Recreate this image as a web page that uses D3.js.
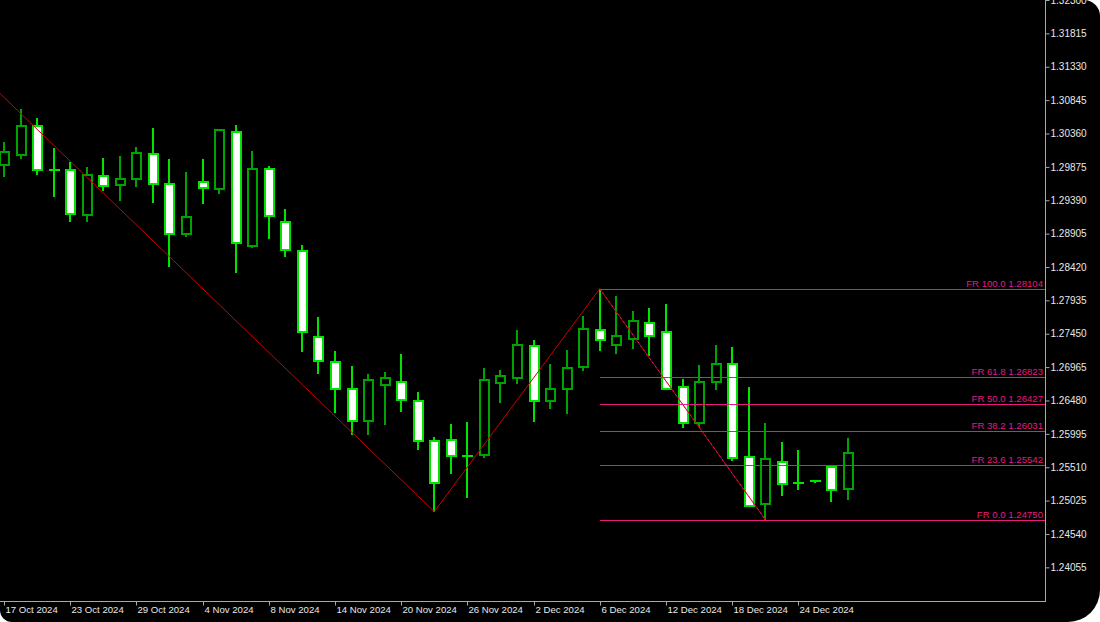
<!DOCTYPE html>
<html><head><meta charset="utf-8">
<script src="https://cdn.jsdelivr.net/npm/d3@7"></script>
<style>
html,body{margin:0;padding:0;background:#fff;width:1100px;height:622px;overflow:hidden;}
#wrap{position:absolute;left:0;top:0;width:1100px;height:622px;background:#000;border-radius:0 16px 32px 12px;overflow:hidden;}
svg{display:block;}
text{font-family:"Liberation Sans",Arial,sans-serif;font-size:10px;}
</style></head><body><div id="wrap"></div>
<script>
// ---- data ----
const dates = ["17 Oct 2024","18 Oct 2024","21 Oct 2024","22 Oct 2024","23 Oct 2024","24 Oct 2024","25 Oct 2024","28 Oct 2024","29 Oct 2024","30 Oct 2024","31 Oct 2024","1 Nov 2024","4 Nov 2024","5 Nov 2024","6 Nov 2024","7 Nov 2024","8 Nov 2024","11 Nov 2024","12 Nov 2024","13 Nov 2024","14 Nov 2024","15 Nov 2024","18 Nov 2024","19 Nov 2024","20 Nov 2024","21 Nov 2024","22 Nov 2024","25 Nov 2024","26 Nov 2024","27 Nov 2024","28 Nov 2024","29 Nov 2024","2 Dec 2024","3 Dec 2024","4 Dec 2024","5 Dec 2024","6 Dec 2024","9 Dec 2024","10 Dec 2024","11 Dec 2024","12 Dec 2024","13 Dec 2024","16 Dec 2024","17 Dec 2024","18 Dec 2024","19 Dec 2024","20 Dec 2024","23 Dec 2024","24 Dec 2024","25 Dec 2024","26 Dec 2024","27 Dec 2024"];
const openP  = [1.29902,1.30052,1.30473,1.29826,1.29829,1.29175,1.29747,1.29611,1.29694,1.30066,1.29630,1.28895,1.29659,1.29553,1.30382,1.28729,1.29840,1.29074,1.28652,1.27407,1.27043,1.26651,1.26177,1.26700,1.26753,1.26472,1.25887,1.25901,1.25670,1.25692,1.26730,1.26802,1.27272,1.26472,1.26651,1.26962,1.27509,1.27291,1.27369,1.27601,1.27479,1.26680,1.26157,1.26744,1.27014,1.25658,1.24971,1.25581,1.25277,1.25305,1.25513,1.25193];
const highP  = [1.30236,1.30716,1.30585,1.30149,1.29946,1.29873,1.29999,1.30028,1.30159,1.30435,1.29994,1.29800,1.29994,1.30425,1.30479,1.30106,1.29888,1.29258,1.28735,1.27693,1.27199,1.26977,1.26869,1.26898,1.27155,1.26599,1.25949,1.26134,1.26163,1.26947,1.26918,1.27504,1.27359,1.27006,1.27213,1.27708,1.28104,1.27998,1.27785,1.27820,1.27882,1.26792,1.26991,1.27291,1.27257,1.26671,1.26148,1.25876,1.25760,1.25324,1.25538,1.25935];
const lowP   = [1.29732,1.29985,1.29761,1.29441,1.29069,1.29078,1.29524,1.29383,1.29578,1.29354,1.28424,1.28860,1.29340,1.29476,1.28337,1.28691,1.28827,1.28561,1.27189,1.26860,1.26294,1.25974,1.25974,1.26119,1.26308,1.25765,1.24864,1.25411,1.25067,1.25648,1.26448,1.26724,1.26167,1.26360,1.26288,1.26913,1.27203,1.27160,1.27228,1.27126,1.26632,1.26073,1.26099,1.26632,1.25605,1.24927,1.24750,1.25096,1.25175,1.25281,1.25009,1.25038];
const closeP = [1.30087,1.30473,1.29829,1.29824,1.29194,1.29752,1.29601,1.29694,1.30072,1.29630,1.28895,1.29151,1.29572,1.30415,1.28773,1.29840,1.29165,1.28667,1.27471,1.27058,1.26642,1.26177,1.26773,1.26802,1.26487,1.25891,1.25285,1.25673,1.25668,1.26773,1.26831,1.27286,1.26472,1.26642,1.26956,1.27514,1.27354,1.27421,1.27631,1.27417,1.26642,1.26157,1.26744,1.27006,1.25644,1.24946,1.25634,1.25270,1.25275,1.25303,1.25179,1.25721];
const priceTicks = [1.32300,1.31815,1.31330,1.30845,1.30360,1.29875,1.29390,1.28905,1.28420,1.27935,1.27450,1.26965,1.26480,1.25995,1.25510,1.25025,1.24540,1.24055];
const dateTicks = ["17 Oct 2024","23 Oct 2024","29 Oct 2024","4 Nov 2024","8 Nov 2024","14 Nov 2024","20 Nov 2024","26 Nov 2024","2 Dec 2024","6 Dec 2024","12 Dec 2024","18 Dec 2024","24 Dec 2024"];
const zigzagBars = [-3, 26, 36, 46];
const zigzagPrices = [1.31579, 1.24864, 1.28104, 1.24750];
const fibLevels = [100.0, 61.8, 50.0, 38.2, 23.6, 0.0];
const fibHigh = 1.28104, fibLow = 1.24750;
const fibStartBar = 36;

// ---- layout ----
const W = 1100, H = 622;
const plotR = 1045, plotB = 601;
const x = d3.scaleLinear().domain([0, 51]).range([4, 848]);
const y = d3.scaleLinear().domain([1.323 - plotB/6881, 1.323]).range([plotB, 0]);

const svg = d3.select("#wrap").append("svg").attr("width", W).attr("height", H);
svg.append("defs").append("clipPath").attr("id","plot").append("rect")
  .attr("x",0).attr("y",0).attr("width",plotR).attr("height",plotB);
const g = svg.append("g").attr("clip-path","url(#plot)");

const bars = dates.map((d,i)=>({i, d, o:openP[i], h:highP[i], l:lowP[i], c:closeP[i]}));
const bullCol = "#00a400", bearCol = "#00e400";

// wicks
g.selectAll("line.wick").data(bars).join("line")
  .attr("class","wick")
  .attr("x1", d=>Math.round(x(d.i))).attr("x2", d=>Math.round(x(d.i)))
  .attr("y1", d=>Math.round(y(d.h))).attr("y2", d=>Math.round(y(d.l)))
  .attr("stroke", d=> d.c>d.o ? bullCol : bearCol)
  .attr("stroke-width", 2).attr("shape-rendering","crispEdges");

// bodies
const bodies = bars.filter(d=>Math.abs(y(d.o)-y(d.c))>=1.5);
g.selectAll("rect.body").data(bodies).join("rect")
  .attr("class","body")
  .attr("x", d=>Math.round(x(d.i))-4)
  .attr("width", 9)
  .attr("y", d=>Math.round(y(Math.max(d.o,d.c))))
  .attr("height", d=>Math.round(y(Math.min(d.o,d.c))) - Math.round(y(Math.max(d.o,d.c))))
  .attr("fill", d=> d.c>d.o ? "#000" : "#fff")
  .attr("stroke", d=> d.c>d.o ? bullCol : bearCol)
  .attr("stroke-width", 2).attr("shape-rendering","crispEdges");
const dojis = bars.filter(d=>Math.abs(y(d.o)-y(d.c))<1.5);
g.selectAll("line.doji").data(dojis).join("line")
  .attr("class","doji")
  .attr("x1", d=>Math.round(x(d.i))-5).attr("x2", d=>Math.round(x(d.i))+6)
  .attr("y1", d=>Math.round(y(d.o))).attr("y2", d=>Math.round(y(d.o)))
  .attr("stroke", bearCol).attr("stroke-width", 2).attr("shape-rendering","crispEdges");

// zigzag
const zz = zigzagBars.map((b,k)=>[x(b), y(zigzagPrices[k])]);
g.append("path").attr("d", d3.line()(zz)).attr("fill","none")
  .attr("stroke","#cc0000").attr("stroke-width",1);

// fibonacci
const fibCol = "#e8197f";
const fibX0 = Math.round(x(fibStartBar));
const fibData = fibLevels.map(l=>({l, p: fibLow + (fibHigh-fibLow)*l/100}));
g.append("line").attr("x1", x(fibStartBar)).attr("y1", y(fibHigh)).attr("x2", x(46)).attr("y2", y(fibLow))
  .attr("stroke", fibCol).attr("stroke-width",1).attr("stroke-dasharray","2,3");
g.selectAll("line.fib").data(fibData).join("line")
  .attr("class","fib")
  .attr("x1", fibX0).attr("x2", plotR)
  .attr("y1", d=>Math.round(y(d.p))+0.5).attr("y2", d=>Math.round(y(d.p))+0.5)
  .attr("stroke", fibCol).attr("stroke-width",1).attr("shape-rendering","crispEdges");
g.selectAll("text.fib").data(fibData).join("text")
  .attr("class","fib")
  .attr("x", plotR-2).attr("y", d=>Math.round(y(d.p))-2)
  .attr("text-anchor","end").attr("fill", fibCol).style("font-size","9.6px")
  .text(d=>"FR " + d.l.toFixed(1) + " " + d.p.toFixed(5));

// axes frame
const axisCol = "#a8a8a8", labelCol = "#e8e8e8";
svg.append("line").attr("x1",plotR+0.5).attr("x2",plotR+0.5).attr("y1",0).attr("y2",plotB+0.5)
  .attr("stroke",axisCol).attr("stroke-width",1).attr("shape-rendering","crispEdges");
svg.append("line").attr("x1",0).attr("x2",plotR+0.5).attr("y1",plotB+0.5).attr("y2",plotB+0.5)
  .attr("stroke",axisCol).attr("stroke-width",1).attr("shape-rendering","crispEdges");

// right axis
const ya = svg.append("g").attr("transform",`translate(${plotR+0.5},0)`)
  .call(d3.axisRight(y).tickValues(priceTicks).tickSize(4).tickSizeOuter(0).tickPadding(1).tickFormat(d3.format(".5f")));
ya.select(".domain").remove();
ya.selectAll(".tick line").attr("stroke",axisCol);
ya.selectAll(".tick text").attr("fill",labelCol).style("font-size","10px").style("font-family","'Liberation Sans',Arial,sans-serif");

// bottom axis
const tickIdx = dateTicks.map(t=>dates.indexOf(t));
const xa = svg.append("g").attr("transform",`translate(0,${plotB+0.5})`)
  .call(d3.axisBottom(x).tickValues(tickIdx).tickSize(4).tickSizeOuter(0).tickFormat(i=>dates[i]));
xa.select(".domain").remove();
xa.selectAll(".tick").attr("transform", d=>`translate(${Math.round(x(d))+0.5},0)`);
xa.selectAll(".tick line").attr("stroke",axisCol);
xa.selectAll(".tick text").attr("fill",labelCol).attr("text-anchor","start").attr("x",1).attr("y",5)
  .style("font-size","9.6px").style("font-family","'Liberation Sans',Arial,sans-serif");
</script></body></html>
